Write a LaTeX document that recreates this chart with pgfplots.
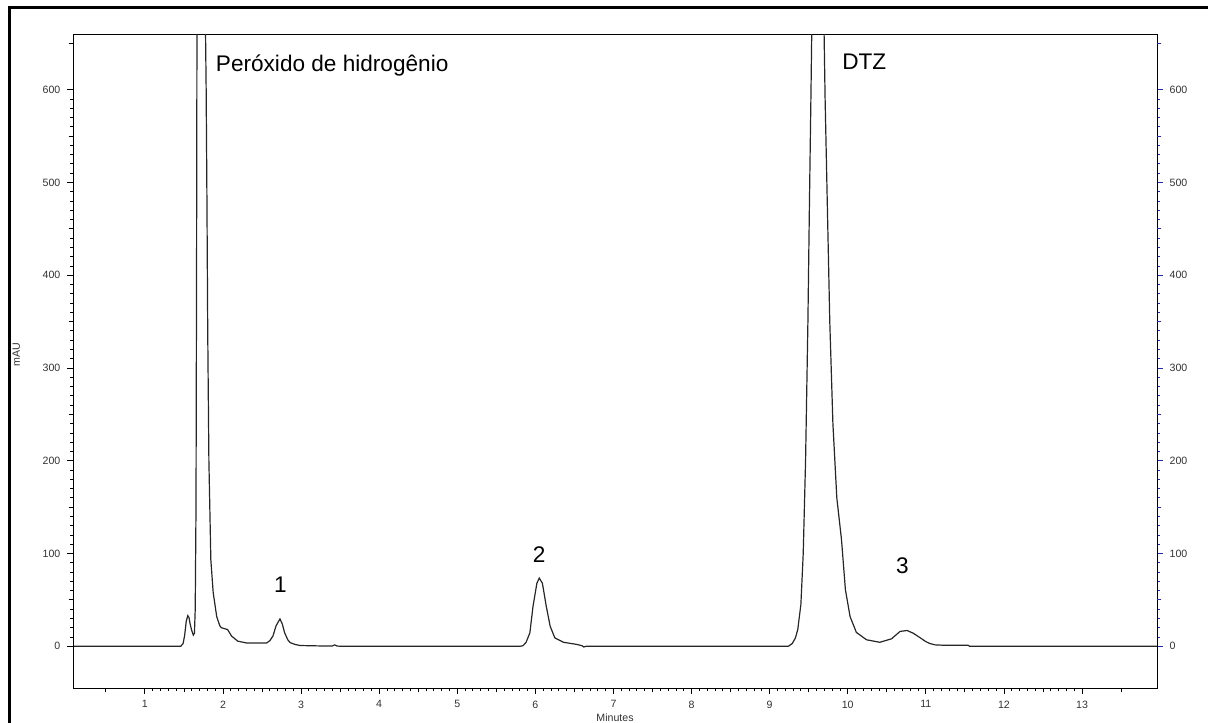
\documentclass[border=0pt]{standalone}
\usepackage{fontspec}
\setmainfont{Liberation Sans}
\usepackage{pgfplots}
\pgfplotsset{compat=1.18}
\definecolor{tickblue}{RGB}{40,40,170}
\definecolor{lblgray}{RGB}{50,50,50}

\pgfplotsset{
  chrom/.style={
    at={(36.5pt,-344pt)}, anchor=south west,
    width=542pt, height=327pt, scale only axis,
    xmin=0.08, xmax=13.96, ymin=-45, ymax=660,
    tick align=outside,
    major tick length=2.8pt, minor tick length=1.4pt,
    ticklabel style={font=\fontsize{5.3}{6}\selectfont, text=lblgray},
    /pgf/number format/assume math mode=true,
    axis line style={line width=0.5pt},
    extra y ticks={-50,50,150,250,350,450,550,650}, extra y tick labels={},
    extra y tick style={major tick length=2.2pt},
  }
}

\begin{document}
\begin{tikzpicture}
\useasboundingbox (0,0) rectangle (604pt,-361pt);
\draw[line width=1.5pt] (4.5pt,-370pt) -- (4.5pt,-4pt) -- (610pt,-4pt);

\begin{axis}[chrom,
    xtick={1,2,...,13}, minor x tick num=9,
    ytick={0,100,...,600}, minor y tick num=9,
    extra x ticks={0.5,1.5,...,13.5}, extra x tick labels={},
    extra x tick style={major tick length=2.2pt, tick style={black, line width=0.4pt}},
    xtick pos=lower, ytick pos=left,
    tick style={black, line width=0.4pt},
    xlabel={Minutes},
    xlabel style={font=\fontsize{5.3}{6}\selectfont, text=lblgray,
      at={(axis description cs:0.5,0)}, anchor=north, inner sep=0pt, yshift=-12.5pt},
  ]
  \addplot[black!85, line width=0.6pt] coordinates {
    (0.08,0) (1.46,0) (1.49,3) (1.51,12) (1.53,27) (1.55,33) (1.565,31)
    (1.58,24) (1.60,17) (1.62,12) (1.635,14) (1.645,40) (1.655,150)
    (1.662,400) (1.668,700) (1.70,1500) (1.74,1500) (1.772,700)
    (1.785,600) (1.795,480) (1.805,340) (1.82,200) (1.845,93)
    (1.875,58) (1.92,32) (1.96,22) (1.98,20) (2.02,19) (2.06,18)
    (2.11,11) (2.19,5.5) (2.30,3.6) (2.56,3.6) (2.60,6) (2.64,11)
    (2.68,22) (2.73,29.5) (2.76,24) (2.79,14.5) (2.83,7) (2.86,4)
    (2.92,2) (2.99,0.8) (3.28,0.3) (3.40,0.3) (3.43,1.5) (3.46,0.3)
    (3.5,0) (5.80,0) (5.84,0.5) (5.88,4) (5.93,14.5) (5.97,43)
    (6.02,68) (6.05,73.5) (6.09,68) (6.14,43) (6.19,21.5) (6.25,9)
    (6.36,4.3) (6.53,2) (6.60,0.5) (6.62,-0.8) (6.65,0) (9.24,0)
    (9.29,3) (9.33,9) (9.36,18) (9.40,45) (9.43,100) (9.46,200)
    (9.49,350) (9.51,480) (9.53,601) (9.545,700) (9.62,1000)
    (9.69,700) (9.71,591) (9.74,470) (9.77,350) (9.81,240)
    (9.86,160) (9.92,115) (9.97,61) (10.03,32) (10.11,15)
    (10.24,7) (10.41,4.3) (10.56,8) (10.67,16) (10.76,17)
    (10.84,14) (10.93,9) (11.0,5) (11.05,3) (11.12,1.5) (11.20,1.2)
    (11.54,1.2) (11.56,0) (13.96,0)
  };
  \node[anchor=west, font=\fontsize{11.3}{13}\selectfont] at (axis cs:1.82,626) {Peróxido de hidrogênio};
  \node[anchor=west, font=\fontsize{11.3}{13}\selectfont] at (axis cs:9.84,630) {DTZ};
  \node[font=\fontsize{11.3}{13}\selectfont] at (axis cs:2.735,66) {1};
  \node[font=\fontsize{11.3}{13}\selectfont] at (axis cs:6.05,98.7) {2};
  \node[font=\fontsize{11.3}{13}\selectfont] at (axis cs:10.70,86.8) {3};
\end{axis}

\begin{axis}[chrom,
    hide x axis,
    ytick={0,100,...,600}, minor y tick num=9,
    ytick pos=right, yticklabel pos=right,
    tick style={tickblue, line width=0.4pt},
  ]
\end{axis}

\node[rotate=90, font=\fontsize{5.3}{6}\selectfont, text=lblgray] at (8.2pt,-177.5pt) {mAU};
\end{tikzpicture}
\end{document}
